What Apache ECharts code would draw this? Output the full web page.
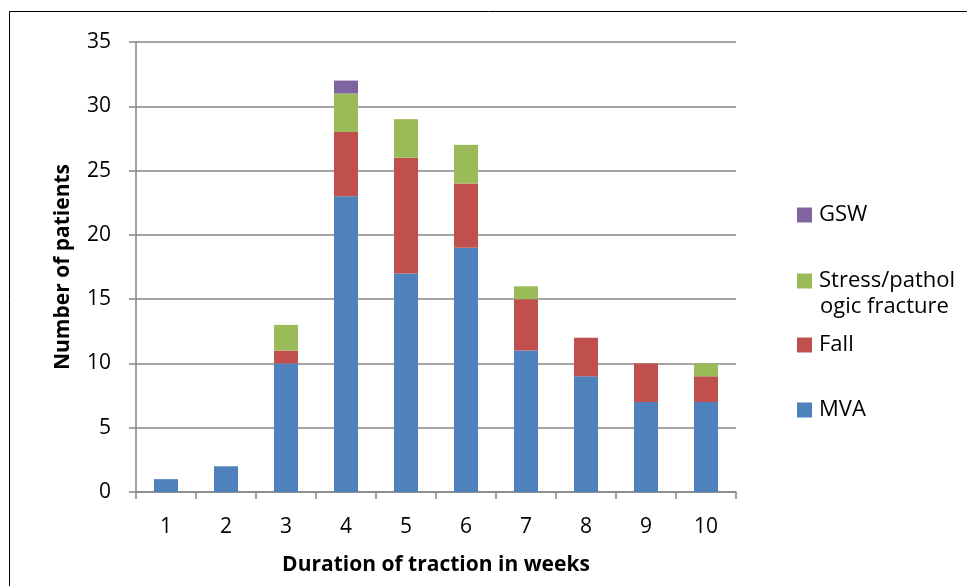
<!DOCTYPE html>
<html><head><meta charset="utf-8">
<script src="https://cdn.jsdelivr.net/npm/echarts@6/dist/echarts.min.js"></script>
<style>html,body{margin:0;padding:0;background:#fff}#c{width:967px;height:586px}</style>
</head><body><div id="c"></div>
<script>
const categories = ['1','2','3','4','5','6','7','8','9','10'];
const mva    = [1, 2, 10, 23, 17, 19, 11, 9, 7, 7];
const fall   = [0, 0, 1, 5, 9, 5, 4, 3, 3, 2];
const stress = [0, 0, 2, 3, 3, 3, 1, 0, 0, 1];
const gsw    = [0, 0, 0, 1, 0, 0, 0, 0, 0, 0];
const seriesNames = ['MVA', 'Fall', 'Stress/pathologic fracture', 'GSW'];
const colors = ['#4F81BD', '#C0504D', '#9BBB59', '#8064A2'];

const font = '"Open Sans", "Liberation Sans", sans-serif';
const chart = echarts.init(document.getElementById('c'));
const dataArr = [mva, fall, stress, gsw];
const legendTops = [399, 334, 270, 204];
chart.setOption({
  animation: false,
  backgroundColor: '#fff',
  grid: {left: 136, right: 231, top: 42, bottom: 94, containLabel: false},
  graphic: [
    {type: 'rect', shape: {x: 9.5, y: 11.5, width: 980, height: 600}, style: {fill: 'none', stroke: '#000', lineWidth: 1}, silent: true},
    {type: 'text', left: 820, top: 296, style: {text: 'ogic fracture', fontFamily: font, fontSize: 22, fill: '#000'}, silent: true}
  ],
  legend: seriesNames.map((n, i) => ({
    data: [n], left: 797, top: legendTops[i], itemWidth: 15, itemHeight: 15, itemGap: 6,
    padding: 0, icon: 'rect',
    formatter: name => name === 'Stress/pathologic fracture' ? 'Stress/pathol' : name,
    textStyle: {fontFamily: font, fontSize: 22, color: '#000', lineHeight: 16, padding: [0, 0, 0, 2]}
  })),
  xAxis: {
    type: 'category', data: categories,
    name: 'Duration of traction in weeks', nameLocation: 'middle', nameGap: 63,
    nameTextStyle: {fontFamily: font, fontSize: 21, fontWeight: 'bold', color: '#000'},
    axisLine: {lineStyle: {color: '#868686', width: 1.5}},
    axisTick: {show: true, length: 7, lineStyle: {color: '#868686', width: 1.5}},
    axisLabel: {fontFamily: font, fontSize: 21, color: '#000', margin: 25}
  },
  yAxis: {
    type: 'value', min: 0, max: 35, interval: 5,
    name: 'Number of patients', nameLocation: 'middle', nameGap: 62, nameRotate: 90,
    nameTextStyle: {fontFamily: font, fontSize: 21, fontWeight: 'bold', color: '#000'},
    axisLine: {show: true, lineStyle: {color: '#868686', width: 1.5}},
    axisTick: {show: true, length: 7, lineStyle: {color: '#868686', width: 1.5}},
    splitLine: {lineStyle: {color: '#868686', width: 1.5}},
    axisLabel: {fontFamily: font, fontSize: 21, color: '#000', margin: 25}
  },
  series: seriesNames.map((n, i) => ({
    name: n, type: 'bar', stack: 'total', barWidth: 24,
    data: dataArr[i].map(v => v === 0 ? null : v),
    itemStyle: {color: colors[i]}
  }))
});
</script></body></html>
